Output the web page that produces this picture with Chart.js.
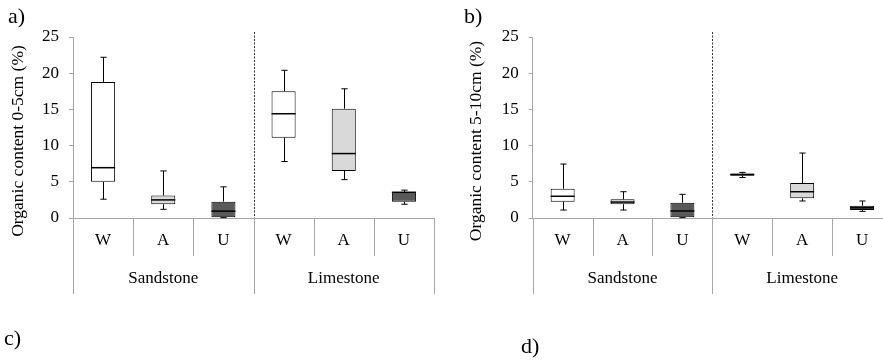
<!DOCTYPE html>
<html>
<head>
<meta charset="utf-8">
<script src="https://cdn.jsdelivr.net/npm/chart.js@4.4.1/dist/chart.umd.min.js"></script>
<style>
  html, body { margin: 0; padding: 0; background: #fff; overflow: hidden; width: 883px; height: 360px; }
  #wrap { position: relative; width: 883px; height: 360px; overflow: hidden; }
  canvas { position: absolute; top: 0; }
  .lbl { position: absolute; font-family: "Liberation Serif", "Times New Roman", serif; font-size: 22px; line-height: 22px; color: #000; white-space: nowrap; }
</style>
</head>
<body>
<div id="wrap">
  <canvas id="ca" width="445" height="360" style="left:0px"></canvas>
  <canvas id="cb" width="460" height="360" style="left:445px"></canvas>
  <div class="lbl" style="left:8px; top:5px;">a)</div>
  <div class="lbl" style="left:464px; top:5px;">b)</div>
  <div class="lbl" style="left:4px; top:327px;">c)</div>
  <div class="lbl" style="left:521px; top:335px;">d)</div>
</div>
<script>
// ---- data ----
const categories = ['W', 'A', 'U', 'W', 'A', 'U'];
const groups = ['Sandstone', 'Limestone'];
const yTicks = [0, 5, 10, 15, 20, 25];
const fills = ['#ffffff', '#d9d9d9', '#595959', '#ffffff', '#d9d9d9', '#595959'];

// Panel a: organic content 0-5 cm (%)
const aMin = [2.6, 1.2, 0.05, 7.8, 5.3, 1.9];
const aQ1  = [5.0, 1.9, 0.1, 11.1, 6.5, 2.25];
const aMed = [6.95, 2.5, 0.95, 14.4, 8.9, 3.55];
const aQ3  = [18.8, 3.1, 2.25, 17.5, 15.1, 3.6];
const aMax = [22.2, 6.5, 4.3, 20.4, 17.85, 3.85];

// Panel b: organic content 5-10 cm (%)
const bMin = [1.1, 1.1, 0.05, 5.6, 2.35, 0.92];
const bQ1  = [2.25, 1.9, 0.1, 5.85, 2.72, 1.1];
const bMed = [3.0, 2.2, 0.97, 6.0, 3.63, 1.42];
const bQ3  = [4.05, 2.58, 2.1, 6.15, 4.83, 1.7];
const bMax = [7.45, 3.63, 3.27, 6.3, 8.97, 2.35];

const FONT = '"Liberation Serif", "Times New Roman", serif';
const AXIS_GRAY = '#a6a6a6';

function line(ctx, x1, y1, x2, y2) {
  ctx.beginPath(); ctx.moveTo(x1, y1); ctx.lineTo(x2, y2); ctx.stroke();
}

const boxPlugin = {
  id: 'boxExtras',
  afterDatasetsDraw(chart, args, o) {
    const ctx = chart.ctx, y = chart.scales.y;
    const meta = chart.getDatasetMeta(0);
    ctx.save();
    ctx.strokeStyle = '#000';
    meta.data.forEach((bar, i) => {
      const x = Math.round(bar.x) + 0.5, w = bar.width;
      const cap = w * 0.13;
      const pMin = y.getPixelForValue(o.min[i]);
      const pMax = y.getPixelForValue(o.max[i]);
      const pQ1 = y.getPixelForValue(o.q1[i]);
      const pQ3 = y.getPixelForValue(o.q3[i]);
      const pMed = y.getPixelForValue(o.med[i]);
      ctx.lineWidth = 1;
      line(ctx, x, pQ3, x, pMax);
      line(ctx, x - cap, pMax, x + cap, pMax);
      line(ctx, x, pQ1, x, pMin);
      line(ctx, x - cap, pMin, x + cap, pMin);
      ctx.lineWidth = 1.5;
      line(ctx, bar.x - w / 2, pMed, bar.x + w / 2, pMed);
    });
    ctx.restore();
  },
  afterDraw(chart, args, o) {
    const ctx = chart.ctx, xs = chart.scales.x, area = chart.chartArea;
    const bottom = area.bottom;
    ctx.save();
    ctx.strokeStyle = AXIS_GRAY;
    ctx.lineWidth = 1;
    // inner separators
    [0.5, 1.5, 3.5, 4.5].forEach(v => {
      const px = Math.round(xs.getPixelForValue(v)) + 0.5;
      line(ctx, px, bottom, px, bottom + 38);
    });
    // group separators (incl. y-axis extension and right end)
    [-0.5, 2.5, 5.5].forEach(v => {
      const px = Math.round(xs.getPixelForValue(v)) + 0.5;
      line(ctx, px, bottom, px, bottom + 76);
    });
    // dashed divider between groups
    ctx.strokeStyle = '#333';
    ctx.setLineDash([2, 1.5]);
    const pd = Math.round(xs.getPixelForValue(2.5)) + 0.5;
    line(ctx, pd, area.top - 5, pd, bottom);
    ctx.setLineDash([]);
    // group labels
    ctx.fillStyle = '#000';
    ctx.font = '17px ' + FONT;
    ctx.textAlign = 'center';
    ctx.textBaseline = 'middle';
    ctx.fillText(groups[0], xs.getPixelForValue(1), bottom + 61);
    ctx.fillText(groups[1], xs.getPixelForValue(4), bottom + 61);
    // y title
    ctx.save();
    ctx.translate(o.titleX, o.titleY);
    ctx.rotate(-Math.PI / 2);
    ctx.font = '17.5px ' + FONT;
    ctx.fillText(o.title, 0, 0);
    ctx.restore();
    ctx.restore();
  }
};

function makeChart(id, mn, q1, med, q3, mx, title, leftW, rightPad, titleX) {
  const canvas = document.getElementById(id);
  return new Chart(canvas, {
    type: 'bar',
    data: {
      labels: categories,
      datasets: [{
        data: q1.map((v, i) => [v, q3[i]]),
        backgroundColor: fills,
        borderColor: '#000',
        borderWidth: 1,
        borderSkipped: false,
        barPercentage: 0.4,
        categoryPercentage: 1.0
      }]
    },
    options: {
      responsive: false,
      animation: false,
      devicePixelRatio: 1,
      layout: { padding: { top: 37, right: rightPad, left: 0, bottom: 0 } },
      plugins: {
        legend: { display: false },
        tooltip: { enabled: false },
        boxExtras: { min: mn, q1: q1, med: med, q3: q3, max: mx, title: title, titleX: titleX, titleY: 141 }
      },
      scales: {
        x: {
          type: 'category',
          offset: true,
          grid: { display: false, drawTicks: false },
          border: { display: true, color: AXIS_GRAY, width: 1 },
          ticks: { color: '#000', font: { family: FONT, size: 17 }, padding: 12, maxRotation: 0, autoSkip: false },
          afterFit: (s) => { s.height = 360 - 218; }
        },
        y: {
          min: 0, max: 25,
          afterBuildTicks: (s) => { s.ticks = yTicks.map(v => ({ value: v })); },
          grid: { display: true, drawOnChartArea: false, drawTicks: true, tickLength: 4, color: AXIS_GRAY },
          border: { display: true, color: AXIS_GRAY, width: 1 },
          ticks: { color: '#000', font: { family: FONT, size: 17 }, padding: 10 },
          afterFit: (s) => { s.width = leftW; }
        }
      }
    },
    plugins: [boxPlugin]
  });
}

makeChart('ca', aMin, aQ1, aMed, aQ3, aMax, 'Organic content 0-5cm (%)', 73, 11, 18);
makeChart('cb', bMin, bQ1, bMed, bQ3, bMax, 'Organic content 5-10cm (%)', 87.7, 13, 31);
</script>
</body>
</html>
